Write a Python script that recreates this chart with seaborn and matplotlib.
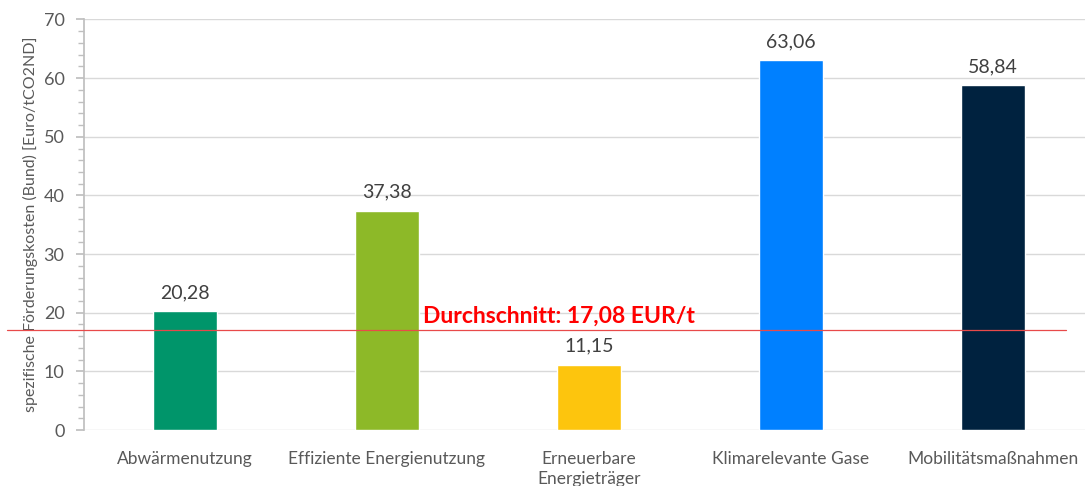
import pandas as pd
import seaborn as sns
import matplotlib
matplotlib.use('Agg')
import matplotlib.pyplot as plt
from matplotlib.ticker import MultipleLocator

# data
categories = ['Abwärmenutzung', 'Effiziente Energienutzung', 'Erneuerbare\nEnergieträger',
              'Klimarelevante Gase', 'Mobilitätsmaßnahmen']
values = [20.28, 37.38, 11.15, 63.06, 58.84]
colors = ['#00956A', '#8DB928', '#FDC50D', '#0080FF', '#00223F']
average = 17.08

sns.set_theme(style='white')
plt.rcParams['font.family'] = ['Lato', 'DejaVu Sans']

df = pd.DataFrame({'Kategorie': categories, 'Wert': values})

fig = plt.figure(figsize=(10.85, 4.86), dpi=100)
ax = fig.add_axes([84 / 1085, 56 / 486, 1010 / 1085, 410.5 / 486])

sns.barplot(data=df, x='Kategorie', y='Wert', hue='Kategorie', palette=colors,
            width=0.32, legend=False, ax=ax, saturation=1)

grey = '#595959'
ax.set_ylim(0, 70)
ax.set_xlim(-0.5, 4.5)
ax.yaxis.set_major_locator(MultipleLocator(10))
ax.yaxis.set_minor_locator(MultipleLocator(2))
ax.grid(axis='y', color='#D9D9D9', linewidth=1)
ax.set_axisbelow(True)
for s in ['top', 'right', 'bottom']:
    ax.spines[s].set_visible(False)
ax.spines['left'].set_color('#BFBFBF')
ax.tick_params(axis='y', which='major', left=True, length=6, color='#BFBFBF', labelsize=13,
               labelcolor=grey, pad=8)
ax.tick_params(axis='y', which='minor', left=True, length=4, color='#BFBFBF')
ax.tick_params(axis='x', bottom=False, labelsize=12.5, labelcolor=grey, pad=9)
for lbl in ax.get_xticklabels():
    lbl.set_linespacing(1.35)
ax.set_xlabel('')
ax.set_ylabel('spezifische Förderungskosten (Bund) [Euro/tCO2ND]', fontsize=11.5, color=grey, labelpad=4)

for i, v in enumerate(values):
    ax.text(i, v + 1.7, f'{v:.2f}'.replace('.', ','), ha='center', va='bottom',
            fontsize=14, color='#404040')

ax.axhline(average, xmin=(7 - 84) / 1010, xmax=(1066 - 84) / 1010, color='#E84A4A',
           linewidth=0.9, clip_on=False, zorder=5)
ax.text(1.18, average + 0.5, 'Durchschnitt: ' + f'{average:.2f}'.replace('.', ',') + ' EUR/t',
        ha='left', va='bottom', fontsize=16.5, fontweight='bold', color='#FF0000')

fig.savefig('out.png', dpi=100)
